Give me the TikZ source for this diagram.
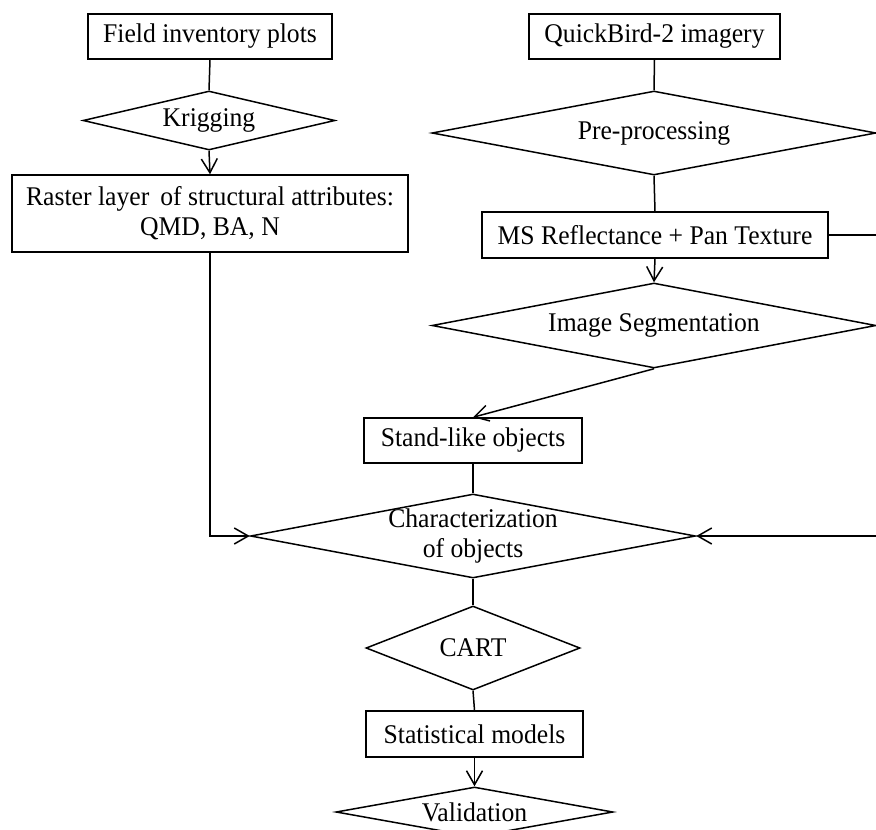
\documentclass[tikz,border=0pt]{standalone}
\usepackage{fontspec}
\setmainfont[FakeStretch=0.95]{Liberation Serif}
\usetikzlibrary{shapes.geometric,arrows.meta}
\tikzset{
  every node/.style={font=\fontsize{27}{30}\selectfont},
  box/.style={draw, line width=1.5pt, rectangle, inner sep=0pt, align=center},
  dia/.style={draw, line width=1.5pt, diamond, inner sep=0pt, aspect=1},
  conn/.style={line width=1.5pt},
  arr/.style={line width=1.5pt, -{Straight Barb[length=14pt, width=16pt, line width=1.5pt]}}
}
\newcommand{\zw}[1]{\makebox[0pt][c]{#1}}
\begin{document}
\begin{tikzpicture}[x=1pt, y=-1pt]
\useasboundingbox (0,0) rectangle (876,830);
\clip (0,0) rectangle (876,830);
% boxes
\node[box, minimum width=244pt, minimum height=45pt] (fip) at (210,36.5) {Field inventory plots};
\node[box, minimum width=251pt, minimum height=45pt] (qb) at (654.5,36.5) {QuickBird-2 imagery};
\node[box, minimum width=396pt, minimum height=77pt] (raster) at (210,213.5) {Raster layer\, of structural attributes:\\QMD, BA, N};
\node[box, minimum width=346pt, minimum height=46pt] (ms) at (655,235) {MS Reflectance + Pan Texture};
\node[box, minimum width=218pt, minimum height=45pt] (stand) at (473,440.5) {Stand-like objects};
\node[box, minimum width=217pt, minimum height=46pt] (stat) at (474.5,734) {Statistical models};
% diamonds
\node[dia, minimum width=252pt, minimum height=59pt] (krig) at (209,120.5) {\zw{Krigging}};
\node[dia, minimum width=444pt, minimum height=84pt] (pre) at (654,133) {\zw{Pre-processing}};
\node[dia, minimum width=444pt, minimum height=85pt] (seg) at (654,325.5) {\zw{Image Segmentation}};
\node[dia, minimum width=445pt, minimum height=84pt] (char) at (473,536) {\zw{\begin{tabular}{@{}c@{}}Characterization\\of objects\end{tabular}}};
\node[dia, minimum width=214pt, minimum height=84pt] (cart) at (473,648) {\zw{CART}};
\node[dia, minimum width=277pt, minimum height=50pt] (val) at (474.5,812) {\zw{Validation}};
% edge coordinates
\coordinate (msout) at (877,235);
\coordinate (charin) at (877,536);
% connectors
\draw[conn] (fip.south) -- (krig.north);
\draw[arr] (krig.south) -- (raster.north);
\draw[conn] (qb.south) -- (pre.north);
\draw[conn] (pre.south) -- (ms.north);
\draw[arr] (ms.south) -- (seg.north);
\draw[arr] (seg.south) -- (stand.north);
\draw[conn] (stand.south) -- (char.north);
\draw[arr] (raster.south) |- (char.west);
\draw[conn] (ms.east) -- (msout);
\draw[arr] (charin) -- (char.east);
\draw[conn] (char.south) -- (cart.north);
\draw[conn] (cart.south) -- (stat.north);
\draw[arr] (stat.south) -- (val.north);
\end{tikzpicture}
\end{document}
